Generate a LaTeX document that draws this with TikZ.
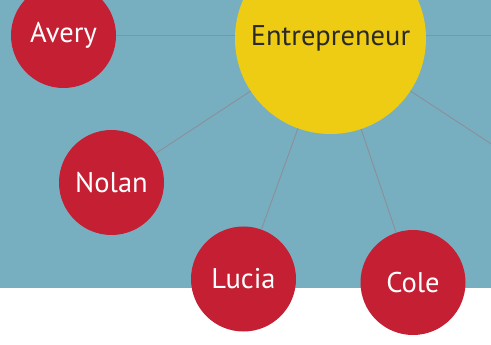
\documentclass[tikz,border=0pt]{standalone}
\usepackage{fontspec}
\setmainfont{PT Sans}
\usepackage{xcolor}
\definecolor{skyback}{HTML}{78AFC0}
\definecolor{personred}{HTML}{C41F33}
\definecolor{hubyellow}{HTML}{EECC14}
\definecolor{linkgray}{HTML}{8A8F9A}
\definecolor{hubtext}{HTML}{2A2A2A}

\begin{document}
\begin{tikzpicture}[x=1pt, y=-1pt,
    person/.style={circle, fill=personred, minimum size=105pt, inner sep=0pt,
                   text=white, font=\fontsize{28.5}{32}\selectfont},
    hub/.style={circle, fill=hubyellow, minimum size=191pt, inner sep=0pt,
                text=hubtext, font=\fontsize{28.5}{32}\selectfont},
    link/.style={draw=linkgray, line width=0.9pt}
]
    \clip (0,0) rectangle (491,345);

    % Background
    \fill[skyback] (0,0) rectangle (491,287.5);

    % Centre
    \node[hub] (entre) at (330.5, 38.5) {Entrepreneur};

    % People
    \node[person] (avery) at (63.5, 35.5) {Avery};
    \node[person] (nolan) at (111.5, 182.5) {Nolan};
    \node[person] (lucia) at (243.5, 279) {Lucia};
    \node[person] (cole) at (413, 282.5) {Cole};

    % Off-page ends
    \coordinate (eastA) at (530, 35.5);
    \coordinate (eastB) at (540, 176);

    % Links
    \draw[link] (avery) -- (avery -| entre.west);
    \draw[link] (entre) -- (nolan);
    \draw[link] (entre) -- (lucia);
    \draw[link] (entre) -- (cole);
    \draw[link] (entre.east |- eastA) -- (eastA);
    \draw[link] (entre) -- (eastB);
\end{tikzpicture}
\end{document}
